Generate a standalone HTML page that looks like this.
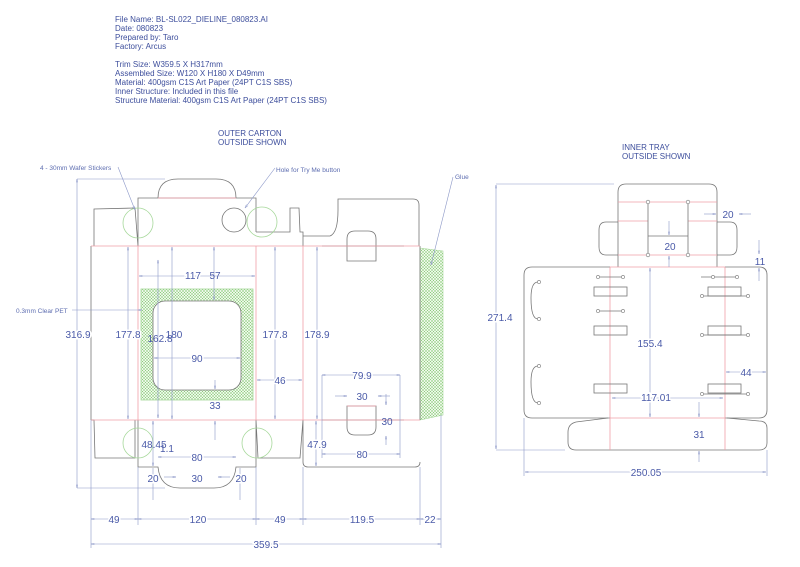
<!DOCTYPE html>
<html><head><meta charset="utf-8"><style>
html,body{margin:0;padding:0;background:#fff;width:800px;height:567px;overflow:hidden}
svg{display:block}
text{font-family:"Liberation Sans",sans-serif}
.t{fill:#3d4e9c;font-size:8px}
.d{fill:#4a5aa8;font-size:10px}
.s{fill:#5d6db0;font-size:6.5px}
.c{fill:none;stroke:#777;stroke-width:0.8}
.r{fill:none;stroke:#f0a0a8;stroke-width:0.8}
.m{fill:none;stroke:#8b97c8;stroke-width:0.6}
.g{fill:none;stroke:#a6d89a;stroke-width:0.8}
</style></head><body>
<svg width="800" height="567" viewBox="0 0 800 567">
<defs>
<pattern id="h" width="3" height="3" patternUnits="userSpaceOnUse">
<rect width="3" height="3" fill="#eef8ea"/>
<path d="M0 0L3 3M3 0L0 3" stroke="#8ccc7c" stroke-width="0.5"/>
</pattern>
<marker id="a" viewBox="0 0 10 6" refX="10" refY="3" markerWidth="8" markerHeight="4" orient="auto-start-reverse"><path d="M0 0L10 3L0 6" fill="none" stroke="#8b97c8" stroke-width="1"/></marker>
</defs>

<g class="t">
<text x="115" y="22">File Name: BL-SL022_DIELINE_080823.AI</text>
<text x="115" y="31">Date: 080823</text>
<text x="115" y="40">Prepared by: Taro</text>
<text x="115" y="49">Factory: Arcus</text>
<text x="115" y="67">Trim Size: W359.5 X H317mm</text>
<text x="115" y="76">Assembled Size: W120 X H180 X D49mm</text>
<text x="115" y="85">Material: 400gsm C1S Art Paper (24PT C1S SBS)</text>
<text x="115" y="94">Inner Structure: Included in this file</text>
<text x="115" y="103">Structure Material: 400gsm C1S Art Paper (24PT C1S SBS)</text>
<text x="218" y="136">OUTER CARTON</text>
<text x="218" y="145">OUTSIDE SHOWN</text>
<text x="622" y="150">INNER TRAY</text>
<text x="622" y="159">OUTSIDE SHOWN</text>
</g>

<rect x="141" y="289" width="112" height="111" fill="url(#h)" stroke="#a6d89a" stroke-width="0.8"/>
<rect x="153" y="301" width="88" height="89" rx="12" fill="#fff" stroke="#777" stroke-width="0.8"/>
<polygon points="420,248 443,251 443,415 420,420" fill="url(#h)" stroke="#a6d89a" stroke-width="0.6"/>

<path class="c" d="M91 246 L91 420 M94 246 L94 209 L135 208 L138 246 M138 246 L138 198 L256 198 L256 232 M158 198 Q158 179 178 179 L216 179 Q236 179 236 198 M256 232 L290 232 L290 208 L299 208 L300 232 L303 232 L303 246 M303 246 L303 236 L330 236 Q338 233 338 210 L338 199 L413 199 Q419 199 419 205 L419 246 M420 246 L420 420"/>
<circle class="c" cx="234" cy="220" r="12"/>
<path class="c" d="M91 420 L94 420 L95 458 L135 458 L135 420 M138 420 L138 467 L158 467 Q160 488 180 488 L214 488 Q234 488 236 467 L256 467 L256 420 M256 420 L258 458 L300 458 L303 420 M303 420 L303 462 Q303 467 308 467 L415 467 Q420 467 420 462"/>
<path class="c" d="M347 246 L347 239 Q347 231 355 231 L368 231 Q376 231 376 239 L376 261 L347 261 Z"/>
<path class="c" d="M347 406 L376 406 L376 427 Q376 435 368 435 L355 435 Q347 435 347 427 Z"/>
<path class="c" d="M322 246 L404 246 M322 420 L404 420" stroke-width="1.3"/>
<path class="r" d="M91 246 L420 246 M91 420 L420 420 M138 246 L138 420 M256 246 L256 420 M303 246 L303 420 M158 198 L236 198 M347 246 L376 246 M347 406 L376 406"/>
<circle class="g" cx="138" cy="223" r="15"/>
<circle class="g" cx="262" cy="222" r="15"/>
<circle class="g" cx="138" cy="443" r="15"/>
<circle class="g" cx="257" cy="443" r="15"/>

<g class="m">
<line x1="77" y1="179" x2="77" y2="488" marker-start="url(#a)" marker-end="url(#a)"/>
<line x1="77" y1="179" x2="165" y2="179"/><line x1="77" y1="488" x2="165" y2="488"/>
<line x1="128" y1="247" x2="128" y2="419" marker-start="url(#a)" marker-end="url(#a)"/>
<line x1="158" y1="260" x2="158" y2="418" marker-start="url(#a)" marker-end="url(#a)"/>
<line x1="172" y1="247" x2="172" y2="419" marker-start="url(#a)" marker-end="url(#a)"/>
<line x1="139" y1="276" x2="255" y2="276" marker-start="url(#a)" marker-end="url(#a)"/>
<line x1="214" y1="247" x2="214" y2="300" marker-start="url(#a)" marker-end="url(#a)"/>
<line x1="154" y1="358" x2="240" y2="358" marker-start="url(#a)" marker-end="url(#a)"/>
<line x1="215" y1="380" x2="215" y2="389" marker-end="url(#a)"/>
<line x1="215" y1="440" x2="215" y2="421" marker-end="url(#a)"/>
<line x1="275" y1="247" x2="275" y2="419" marker-start="url(#a)" marker-end="url(#a)"/>
<line x1="317" y1="247" x2="317" y2="419" marker-start="url(#a)" marker-end="url(#a)"/>
<line x1="257" y1="380" x2="302" y2="380" marker-start="url(#a)" marker-end="url(#a)"/>
<line x1="322" y1="375" x2="400" y2="375" marker-start="url(#a)" marker-end="url(#a)"/>
<line x1="322" y1="375" x2="322" y2="458"/><line x1="400" y1="375" x2="400" y2="458"/>
<line x1="322" y1="454" x2="400" y2="454" marker-start="url(#a)" marker-end="url(#a)"/>
<line x1="335" y1="396" x2="347" y2="396" marker-end="url(#a)"/>
<line x1="390" y1="396" x2="378" y2="396" marker-end="url(#a)"/>
<line x1="386" y1="394" x2="386" y2="405" marker-end="url(#a)"/>
<line x1="386" y1="445" x2="386" y2="436" marker-end="url(#a)"/>
<line x1="316" y1="421" x2="316" y2="466" marker-start="url(#a)" marker-end="url(#a)"/>
<line x1="153" y1="421" x2="153" y2="466" marker-start="url(#a)" marker-end="url(#a)"/>
<line x1="158" y1="457" x2="236" y2="457" marker-start="url(#a)" marker-end="url(#a)"/>
<line x1="164" y1="477" x2="176" y2="477" marker-end="url(#a)"/><line x1="230" y1="477" x2="218" y2="477" marker-end="url(#a)"/>
<line x1="153" y1="468" x2="153" y2="500"/><line x1="240" y1="468" x2="240" y2="500"/>
<line x1="91" y1="420" x2="91" y2="548"/><line x1="138" y1="467" x2="138" y2="525"/><line x1="256" y1="467" x2="256" y2="525"/><line x1="303" y1="467" x2="303" y2="525"/><line x1="420" y1="467" x2="420" y2="525"/><line x1="441" y1="415" x2="441" y2="548"/>
<line x1="91" y1="519" x2="138" y2="519" marker-start="url(#a)" marker-end="url(#a)"/>
<line x1="138" y1="519" x2="256" y2="519" marker-start="url(#a)" marker-end="url(#a)"/>
<line x1="256" y1="519" x2="303" y2="519" marker-start="url(#a)" marker-end="url(#a)"/>
<line x1="303" y1="519" x2="420" y2="519" marker-start="url(#a)" marker-end="url(#a)"/>
<line x1="420" y1="519" x2="441" y2="519" marker-start="url(#a)" marker-end="url(#a)"/>
<line x1="91" y1="544" x2="441" y2="544" marker-start="url(#a)" marker-end="url(#a)"/>
<line x1="118" y1="167" x2="135" y2="210" marker-end="url(#a)"/>
<line x1="275" y1="168" x2="245" y2="208" marker-end="url(#a)"/>
<line x1="453" y1="177" x2="431" y2="265" marker-end="url(#a)"/>
<line x1="72" y1="310" x2="142" y2="310" marker-end="url(#a)"/>
</g>
<g class="s">
<text x="40" y="170">4 - 30mm Wafer Stickers</text>
<text x="276" y="172">Hole for Try Me button</text>
<text x="455" y="179">Glue</text>
<text x="16" y="313">0.3mm Clear PET</text>
</g>
<g class="d" text-anchor="middle">
<text x="78" y="338" fill="#fff" stroke="#fff" stroke-width="3">316.9</text><text x="78" y="338">316.9</text>
<text x="128" y="338" fill="#fff" stroke="#fff" stroke-width="3">177.8</text><text x="128" y="338">177.8</text>
<text x="160" y="342">162.8</text><text x="174" y="338">180</text>
<text x="193" y="279" fill="#fff" stroke="#fff" stroke-width="3">117</text><text x="193" y="279">117</text>
<text x="215" y="279">57</text>
<text x="197" y="362" fill="#fff" stroke="#fff" stroke-width="3">90</text><text x="197" y="362">90</text>
<text x="215" y="409">33</text>
<text x="275" y="338" fill="#fff" stroke="#fff" stroke-width="3">177.8</text><text x="275" y="338">177.8</text>
<text x="317" y="338" fill="#fff" stroke="#fff" stroke-width="3">178.9</text><text x="317" y="338">178.9</text>
<text x="280" y="384" fill="#fff" stroke="#fff" stroke-width="3">46</text><text x="280" y="384">46</text>
<text x="362" y="379" fill="#fff" stroke="#fff" stroke-width="3">79.9</text><text x="362" y="379">79.9</text>
<text x="362" y="400">30</text><text x="387" y="425">30</text>
<text x="362" y="458" fill="#fff" stroke="#fff" stroke-width="3">80</text><text x="362" y="458">80</text>
<text x="317" y="448" fill="#fff" stroke="#fff" stroke-width="3">47.9</text><text x="317" y="448">47.9</text>
<text x="154" y="448">48.45</text><text x="167" y="452">1.1</text>
<text x="197" y="461" fill="#fff" stroke="#fff" stroke-width="3">80</text><text x="197" y="461">80</text>
<text x="153" y="482" fill="#fff" stroke="#fff" stroke-width="3">20</text><text x="153" y="482">20</text>
<text x="197" y="482">30</text>
<text x="241" y="482" fill="#fff" stroke="#fff" stroke-width="3">20</text><text x="241" y="482">20</text>
<text x="114" y="523" fill="#fff" stroke="#fff" stroke-width="3">49</text><text x="114" y="523">49</text>
<text x="198" y="523" fill="#fff" stroke="#fff" stroke-width="3">120</text><text x="198" y="523">120</text>
<text x="280" y="523" fill="#fff" stroke="#fff" stroke-width="3">49</text><text x="280" y="523">49</text>
<text x="362" y="523" fill="#fff" stroke="#fff" stroke-width="3">119.5</text><text x="362" y="523">119.5</text>
<text x="430" y="523" fill="#fff" stroke="#fff" stroke-width="3">22</text><text x="430" y="523">22</text>
<text x="266" y="548" fill="#fff" stroke="#fff" stroke-width="3">359.5</text><text x="266" y="548">359.5</text>
</g>

<path class="c" d="M618 267 L618 192 Q618 184 626 184 L709 184 Q717 184 717 192 L717 267"/>
<path class="c" d="M618 222 L606 222 Q599 222 599 230 L599 247 Q599 255 606 255 L618 255 M717 222 L730 222 Q737 222 737 230 L737 247 Q737 255 730 255 L717 255"/>
<path class="c" d="M610 267 L532 267 Q524 267 524 275 L524 410 Q524 418 532 418 L610 418 M725 267 L759 267 Q767 267 767 275 L767 410 Q767 418 759 418 L725 418"/>
<path class="c" d="M608 418 L576 422 Q568 424 568 432 L568 442 Q568 450 576 450 L759 450 Q767 450 767 443 L767 428 Q767 421 759 421 L727 418"/>
<path class="r" d="M610 267 L725 267 M610 418 L725 418 M610 267 L610 450 M725 267 L725 450 M618 202 L717 202 M618 221 L648 221 M688 221 L717 221 M618 255 L717 255"/>
<path class="c" d="M648 202 L648 255 M688 202 L688 255 M648 236 L688 236"/>
<g fill="#fff" stroke="#777" stroke-width="0.6">
<circle cx="648" cy="202" r="1.8"/><circle cx="688" cy="202" r="1.8"/><circle cx="648" cy="255" r="1.8"/><circle cx="688" cy="255" r="1.8"/>
</g>
<g class="c">
<rect x="594" y="287" width="33" height="9"/><rect x="594" y="326" width="33" height="9"/><rect x="594" y="384" width="33" height="9"/>
<rect x="708" y="287" width="33" height="9"/><rect x="708" y="326" width="33" height="9"/><rect x="708" y="384" width="33" height="9"/>
<path d="M598 277 L623 277 M598 311 L623 311 M701 277 L737 277 M702 296 L748 296 M702 335 L748 335 M702 394 L748 394"/>
<path d="M538 282 Q531 282 531 298 Q531 319 538 319 M538 366 Q531 366 531 382 Q531 403 538 403"/>
</g>
<g fill="#fff" stroke="#777" stroke-width="0.6">
<circle cx="598" cy="277" r="1.6"/><circle cx="623" cy="277" r="1.6"/><circle cx="598" cy="311" r="1.6"/><circle cx="623" cy="311" r="1.6"/>
<circle cx="713" cy="277" r="1.6"/><circle cx="737" cy="277" r="1.6"/>
<circle cx="702" cy="296" r="1.6"/><circle cx="748" cy="296" r="1.6"/><circle cx="702" cy="335" r="1.6"/><circle cx="748" cy="335" r="1.6"/><circle cx="702" cy="394" r="1.6"/><circle cx="748" cy="394" r="1.6"/>
<circle cx="539" cy="282" r="1.6"/><circle cx="539" cy="319" r="1.6"/><circle cx="539" cy="366" r="1.6"/><circle cx="539" cy="403" r="1.6"/>
</g>
<g class="m">
<line x1="496" y1="185" x2="496" y2="449" marker-start="url(#a)" marker-end="url(#a)"/>
<line x1="496" y1="184" x2="614" y2="184"/><line x1="496" y1="450" x2="565" y2="450"/>
<line x1="650" y1="268" x2="650" y2="417" marker-start="url(#a)" marker-end="url(#a)"/>
<line x1="612" y1="398" x2="723" y2="398" marker-start="url(#a)" marker-end="url(#a)"/>
<line x1="726" y1="372" x2="766" y2="372" marker-start="url(#a)" marker-end="url(#a)"/>
<line x1="669" y1="221" x2="669" y2="235" marker-end="url(#a)"/><line x1="669" y1="267" x2="669" y2="256" marker-end="url(#a)"/>
<line x1="704" y1="214" x2="716" y2="214" marker-end="url(#a)"/><line x1="751" y1="214" x2="739" y2="214" marker-end="url(#a)"/>
<line x1="759" y1="240" x2="759" y2="254" marker-end="url(#a)"/><line x1="759" y1="281" x2="759" y2="268" marker-end="url(#a)"/>
<line x1="699" y1="402" x2="699" y2="417" marker-end="url(#a)"/><line x1="699" y1="462" x2="699" y2="451" marker-end="url(#a)"/>
<line x1="524" y1="418" x2="524" y2="476"/><line x1="767" y1="450" x2="767" y2="476"/>
<line x1="525" y1="472" x2="766" y2="472" marker-start="url(#a)" marker-end="url(#a)"/>
</g>
<g class="d" text-anchor="middle">
<text x="500" y="321" fill="#fff" stroke="#fff" stroke-width="3">271.4</text><text x="500" y="321">271.4</text>
<text x="650" y="347" fill="#fff" stroke="#fff" stroke-width="3">155.4</text><text x="650" y="347">155.4</text>
<text x="656" y="401" fill="#fff" stroke="#fff" stroke-width="3">117.01</text><text x="656" y="401">117.01</text>
<text x="746" y="376" fill="#fff" stroke="#fff" stroke-width="3">44</text><text x="746" y="376">44</text>
<text x="670" y="250">20</text>
<text x="728" y="218">20</text>
<text x="760" y="265">11</text>
<text x="699" y="438">31</text>
<text x="646" y="476" fill="#fff" stroke="#fff" stroke-width="3">250.05</text><text x="646" y="476">250.05</text>
</g>
</svg>
</body></html>
